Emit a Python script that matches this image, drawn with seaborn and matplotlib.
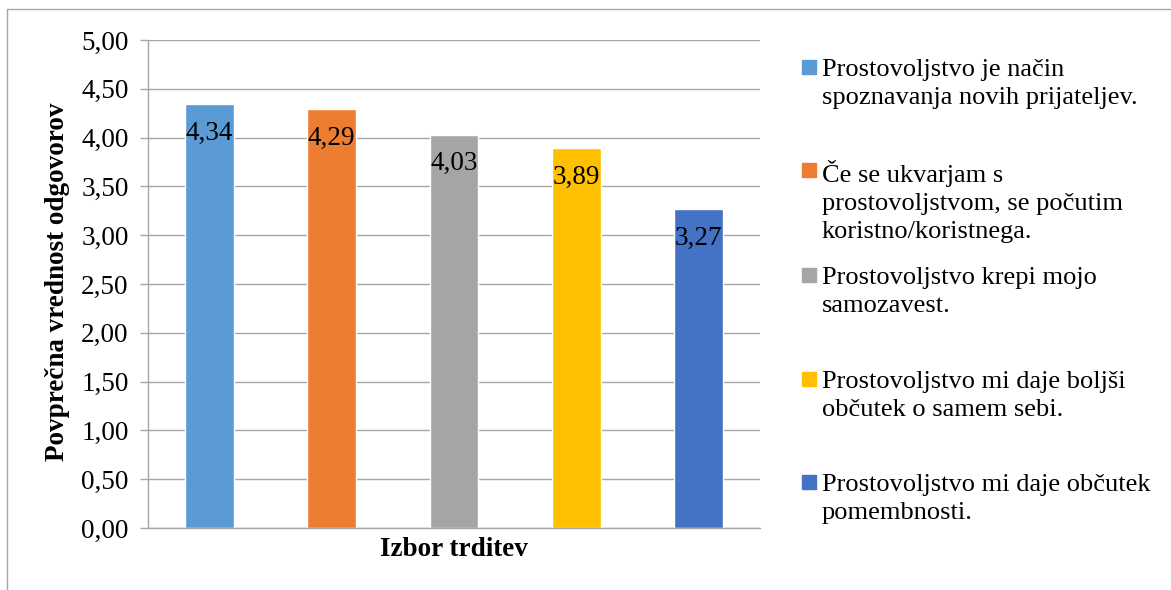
import matplotlib.pyplot as plt
import seaborn as sns
from matplotlib.lines import Line2D
from matplotlib.patches import Rectangle
from matplotlib.ticker import FuncFormatter, MultipleLocator

statements = [
    "Prostovoljstvo je način\nspoznavanja novih prijateljev.",
    "Če se ukvarjam s\nprostovoljstvom, se počutim\nkoristno/koristnega.",
    "Prostovoljstvo krepi mojo\nsamozavest.",
    "Prostovoljstvo mi daje boljši\nobčutek o samem sebi.",
    "Prostovoljstvo mi daje občutek\npomembnosti.",
]
values = [4.34, 4.29, 4.03, 3.89, 3.27]
colors = ["#5B9BD5", "#ED7D31", "#A5A5A5", "#FFC000", "#4472C4"]

sns.set_style("white")
plt.rcParams["font.family"] = ["Liberation Serif", "DejaVu Serif"]
plt.rcParams["text.color"] = "black"
plt.rcParams["axes.labelcolor"] = "black"

W, H = 1171, 590
fig = plt.figure(figsize=(W / 100, H / 100), dpi=100)
ax = fig.add_axes([148 / W, 1 - 528 / H, 612 / W, 488 / H])

sns.barplot(x=statements, y=values, hue=statements, palette=colors, width=0.4,
            saturation=1, legend=False, ax=ax)

grid_col = "#A6A6A6"
ax.set_ylim(0, 5)
ax.yaxis.set_major_locator(MultipleLocator(0.5))
ax.yaxis.set_major_formatter(FuncFormatter(lambda v, p: f"{v:.2f}".replace(".", ",")))
ax.yaxis.grid(True, color=grid_col, lw=1)
ax.set_axisbelow(True)
ax.set_xticks([])
ax.tick_params(axis="y", labelsize=19.5, length=6, width=1, color=grid_col, pad=8,
               left=True, labelcolor="black")
for s in ["top", "right"]:
    ax.spines[s].set_visible(False)
for s in ["left", "bottom"]:
    ax.spines[s].set_color(grid_col)
    ax.spines[s].set_linewidth(1)

for i, v in enumerate(values):
    ax.annotate(f"{v:.2f}".replace(".", ","), (i, v), xytext=(0, -21),
                textcoords="offset points", ha="center", va="center", fontsize=19.5,
                color="black")

ax.set_ylabel("Povprečna vrednost odgovorov", fontsize=19.5, fontweight="bold")
ax.yaxis.set_label_coords(-0.127, 0.504)
ax.set_xlabel("Izbor trditev", fontsize=19.5, fontweight="bold")
ax.xaxis.set_label_coords(0.5, -0.018)

# legend drawn by hand so the marker sits on the first text line
first_baseline = [73, 176, 281, 385, 488]
step = 31
for lab, col, yb in zip(statements, colors, first_baseline):
    n = lab.count("\n")
    fig.patches.append(Rectangle((802 / W, 1 - (yb + 1) / H), 14 / W, 14 / H,
                                 transform=fig.transFigure, color=col))
    fig.text(822 / W, 1 - (yb + n * step) / H, lab, fontsize=19, va="baseline",
             ha="left", linespacing=1.35, color="black")

# chart frame
fig.lines.append(Line2D([7 / W, 7 / W, 1], [0, 1 - 9 / H, 1 - 9 / H],
                        transform=fig.transFigure, color=grid_col, lw=1))

fig.savefig("out.png", dpi=100)
